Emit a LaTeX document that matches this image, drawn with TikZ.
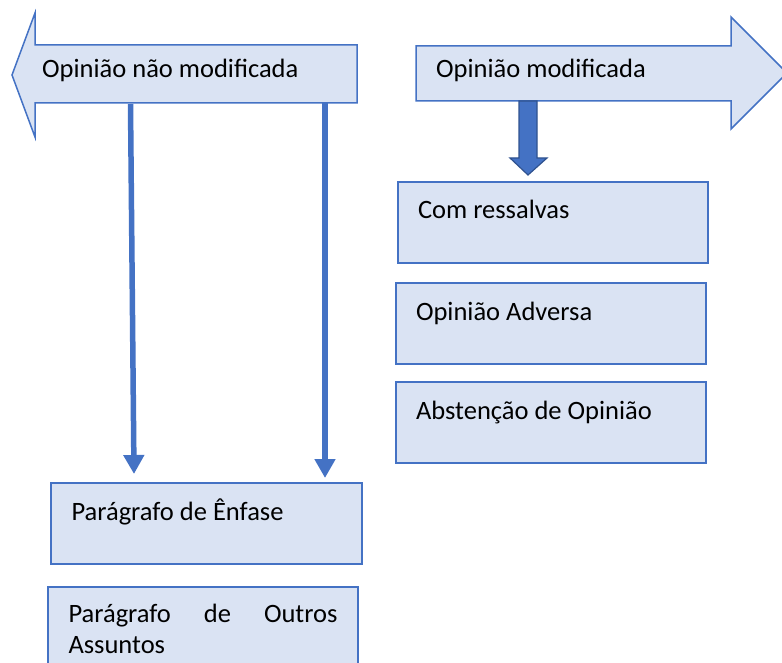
\documentclass[tikz,border=0pt]{standalone}
\usepackage{fontspec}
\setmainfont{Carlito}
\usetikzlibrary{arrows.meta}
\definecolor{bord}{HTML}{4472C4}
\definecolor{lightfill}{HTML}{DAE3F3}
\definecolor{darkbord}{HTML}{2F528F}
\begin{document}
\begin{tikzpicture}[x=1pt,y=-1pt,
  bigarrow/.style={draw=bord, fill=lightfill, line width=1.5pt, line join=miter},
  blockdown/.style={draw=darkbord, fill=bord, line width=1.2pt},
  lbl/.style={anchor=base west, inner sep=0pt, font=\fontsize{26.5}{30}\selectfont},
  box/.style={draw=bord, fill=lightfill, line width=2pt, rectangle, anchor=north west,
    inner xsep=20pt, inner ysep=0pt, text width=270pt, align=flush left,
    text height=37pt, text depth=44pt, font=\fontsize{26.5}{30}\selectfont},
  tallbox/.style={draw=bord, fill=lightfill, line width=2pt, rectangle, anchor=north west,
    inner xsep=20.5pt, inner ysep=17pt, text width=269pt, align=justify,
    font=\fontsize{26.5}{31}\selectfont},
  conn/.style={draw=bord, line width=5.5pt, -{Triangle[width=20pt,length=19pt]}},
]
\useasboundingbox (0,0) rectangle (782,663);
\clip (0,0) rectangle (782,663);

% left big arrow
\draw[bigarrow] (12,75) -- (35,13) -- (35,45) -- (357,45) -- (357,103) -- (35,103) -- (35,137) -- cycle;
\node[lbl] (nmod) at (42,77.5) {Opinião não modificada};

% right big arrow
\draw[bigarrow] (416,46) -- (731,46) -- (731,17) -- (787,73) -- (731,129) -- (731,101) -- (416,101) -- cycle;
\node[lbl] (mod) at (436,77.5) {Opinião modificada};

% down block arrow
\draw[blockdown] (519,101) -- (537,101) -- (537,158) -- (547,158) -- (528,175) -- (510,158) -- (519,158) -- cycle;

% right boxes
\node[box, minimum width=310pt] (ress) at (397,181) {Com ressalvas};
\node[box, minimum width=310pt] (adv) at (395,282) {Opinião Adversa};
\node[box, minimum width=310pt] (abst) at (395,381) {Abstenção de Opinião};

% left boxes
\node[box, minimum width=311pt] (enf) at (50,482) {Parágrafo de Ênfase};
\node[tallbox, minimum width=310pt] (outros) at (47,586) {Parágrafo de Outros\linebreak Assuntos};

% thin connectors
\coordinate (s1) at (130.5,104);
\coordinate (e1) at (134,474);
\coordinate (s2) at (325,103);
\coordinate (e2) at (325,478);
\draw[conn] (s1) -- (e1);
\draw[conn] (s2) -- (e2);
\end{tikzpicture}
\end{document}
